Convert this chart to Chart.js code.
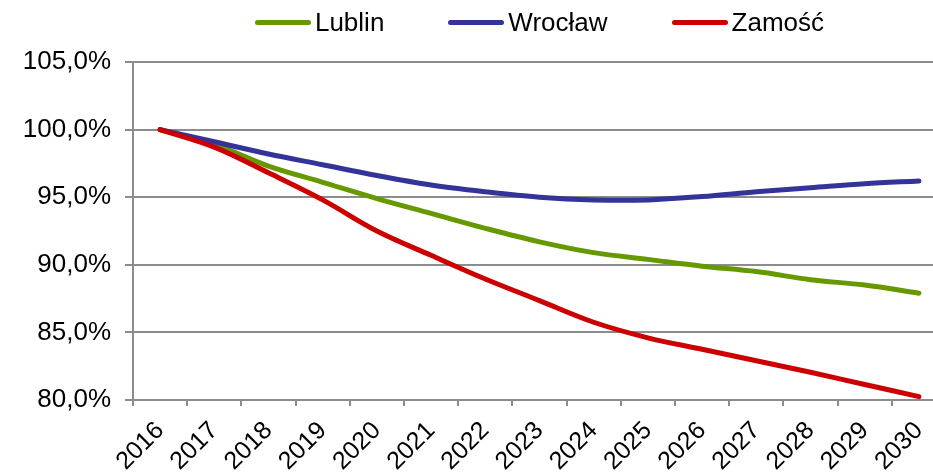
<!DOCTYPE html>
<html>
<head>
<meta charset="utf-8">
<script src="https://cdn.jsdelivr.net/npm/chart.js@4/dist/chart.umd.min.js"></script>
<style>
  html, body { margin: 0; padding: 0; width: 933px; height: 475px; overflow: hidden; background: #fff; }
  #wrap { position: relative; width: 950px; height: 475px; }
  #legend { position: absolute; top: 0; height: 45px; display: flex; justify-content: center; align-items: center; gap: 64px;
            font-family: Arial, "Liberation Sans", sans-serif; font-size: 26px; color: #000; }
  #legend .item { display: flex; align-items: center; }
  #legend .line { width: 56px; height: 5px; border-radius: 3px; margin-right: 4px; }
</style>
</head>
<body>
<div id="wrap">
  <canvas id="chart" width="950" height="475"></canvas>
  <div id="legend"></div>
</div>
<script>
// Data
const years = ['2016', '2017', '2018', '2019', '2020', '2021', '2022', '2023', '2024', '2025', '2026', '2027', '2028', '2029', '2030'];
const lublin = [100, 98.9, 97.3, 96.1, 94.9, 93.8, 92.7, 91.7, 90.9, 90.4, 89.9, 89.5, 88.9, 88.5, 87.9];
const wroclaw = [100, 99.1, 98.2, 97.4, 96.6, 95.9, 95.4, 95.0, 94.8, 94.8, 95.05, 95.4, 95.7, 96.0, 96.2];
const zamosc = [100, 98.7, 96.8, 94.8, 92.5, 90.7, 88.95, 87.35, 85.75, 84.6, 83.75, 82.9, 82.05, 81.15, 80.25];
const yTicks = [80, 85, 90, 95, 100, 105];

const family = 'Arial, "Liberation Sans", sans-serif';
const gridColor = '#8c8c8c';

function makeSet(label, data, color, order) {
    return {
        label: label,
        data: data,
        borderColor: color,
        backgroundColor: color,
        borderWidth: 5,
        borderCapStyle: 'round',
        pointRadius: 0,
        tension: 0.35,
        order: order
    };
}

const chart = new Chart(document.getElementById('chart'), {
    type: 'line',
    data: {
        labels: years,
        datasets: [
            makeSet('Lublin', lublin, '#669900', 3),
            makeSet('Wrocław', wroclaw, '#333399', 2),
            makeSet('Zamość', zamosc, '#cc0000', 1)
        ]
    },
    options: {
        responsive: false,
        animation: false,
        devicePixelRatio: 1,
        layout: { padding: { top: 62, right: 4, left: 0, bottom: 0 } },
        plugins: { legend: { display: false }, tooltip: { enabled: false } },
        scales: {
            x: {
                offset: true,
                grid: { offset: true, drawOnChartArea: false, color: gridColor, lineWidth: 2, tickLength: 6 },
                border: { color: gridColor, width: 2 },
                ticks: { font: { family: family, size: 25 }, color: '#000', maxRotation: 45, minRotation: 45, autoSkip: false, padding: 10 },
                afterFit: s => { s.height = 75; s.paddingRight = 0; s.paddingLeft = 0; }
            },
            y: {
                min: 80,
                max: 105,
                afterBuildTicks: s => { s.ticks = yTicks.map(v => ({ value: v })); },
                grid: { color: gridColor, lineWidth: 2, tickLength: 8 },
                border: { color: gridColor, width: 2 },
                ticks: {
                    font: { family: family, size: 26 },
                    color: '#000',
                    padding: 14,
                    callback: v => v.toFixed(1).replace('.', ',') + '%'
                },
                afterFit: s => { s.width = 133; }
            }
        }
    }
});

// HTML legend centred over the plot area
const legend = document.getElementById('legend');
legend.style.left = chart.chartArea.left + 'px';
legend.style.width = (chart.chartArea.right - chart.chartArea.left) + 'px';
chart.data.datasets.forEach(ds => {
    const item = document.createElement('div');
    item.className = 'item';
    const line = document.createElement('span');
    line.className = 'line';
    line.style.background = ds.borderColor;
    const txt = document.createElement('span');
    txt.textContent = ds.label;
    item.appendChild(line);
    item.appendChild(txt);
    legend.appendChild(item);
});
</script>
</body>
</html>
